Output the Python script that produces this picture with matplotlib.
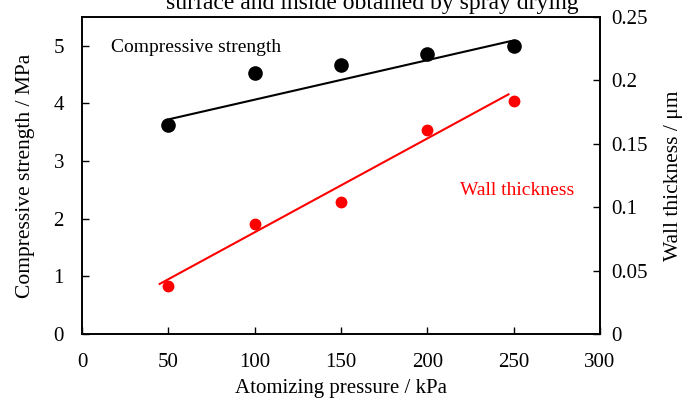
import numpy as np
import matplotlib.pyplot as plt
from matplotlib.ticker import FuncFormatter

plt.rcParams['font.family'] = ['Liberation Serif', 'DejaVu Serif']

# data
pressure = [50, 100, 150, 200, 250]
strength = [3.62, 4.52, 4.67, 4.86, 5.0]
thickness = [0.038, 0.0865, 0.104, 0.161, 0.184]

strength_fit_x = [51, 248]
strength_fit_y = [3.73, 5.08]
thick_fit_x = [45, 247]
thick_fit_y = [0.0395, 0.189]

fig = plt.figure(figsize=(6.94, 3.98), dpi=100)
ax = fig.add_axes([82/694, 1 - 334/398, 518/694, 317/398])
ax2 = ax.twinx()

ax.plot(pressure, strength, 'o', color='black', ms=9.5, zorder=3)
ax.plot(strength_fit_x, strength_fit_y, '-', color='black', lw=1.5)
ax2.plot(pressure, thickness, 'o', color='#ff0000', ms=7.5, zorder=3)
ax2.plot(thick_fit_x, thick_fit_y, '-', color='#ff0000', lw=1.5)

ax.set_xlim(0, 300)
ax.set_ylim(0, 5.5)
ax2.set_ylim(0, 0.25)
ax.set_xticks([0, 50, 100, 150, 200, 250, 300])
ax.set_yticks([0, 1, 2, 3, 4, 5])
ax2.set_yticks([0, 0.05, 0.1, 0.15, 0.2, 0.25])
ax2.yaxis.set_major_formatter(FuncFormatter(lambda v, p: '%g' % round(v, 2)))

for a in (ax, ax2):
    a.tick_params(direction='in', length=5, width=1, labelsize=15)
    for s in a.spines.values():
        s.set_linewidth(1.2)
ax.tick_params(axis='y', pad=13)
ax.tick_params(axis='x', pad=14)
ax2.tick_params(axis='y', pad=8)

ax.set_xlabel('Atomizing pressure / kPa', fontsize=15, labelpad=5)
ax.set_ylabel('Compressive strength / MPa', fontsize=15.5, labelpad=13)
ax2.set_ylabel('Wall thickness / μm', fontsize=15.5, labelpad=12)

ax.text(17, 4.97, 'Compressive strength', fontsize=14, va='center', ha='left', color='black')
ax.text(219, 2.49, 'Wall thickness', fontsize=14, va='center', ha='left', color='#ff0000')

fig.text(0.536, 1 - 9/398, 'surface and inside obtained by spray drying', fontsize=17,
         ha='center', va='baseline')

fig.savefig('out.png', dpi=100)
